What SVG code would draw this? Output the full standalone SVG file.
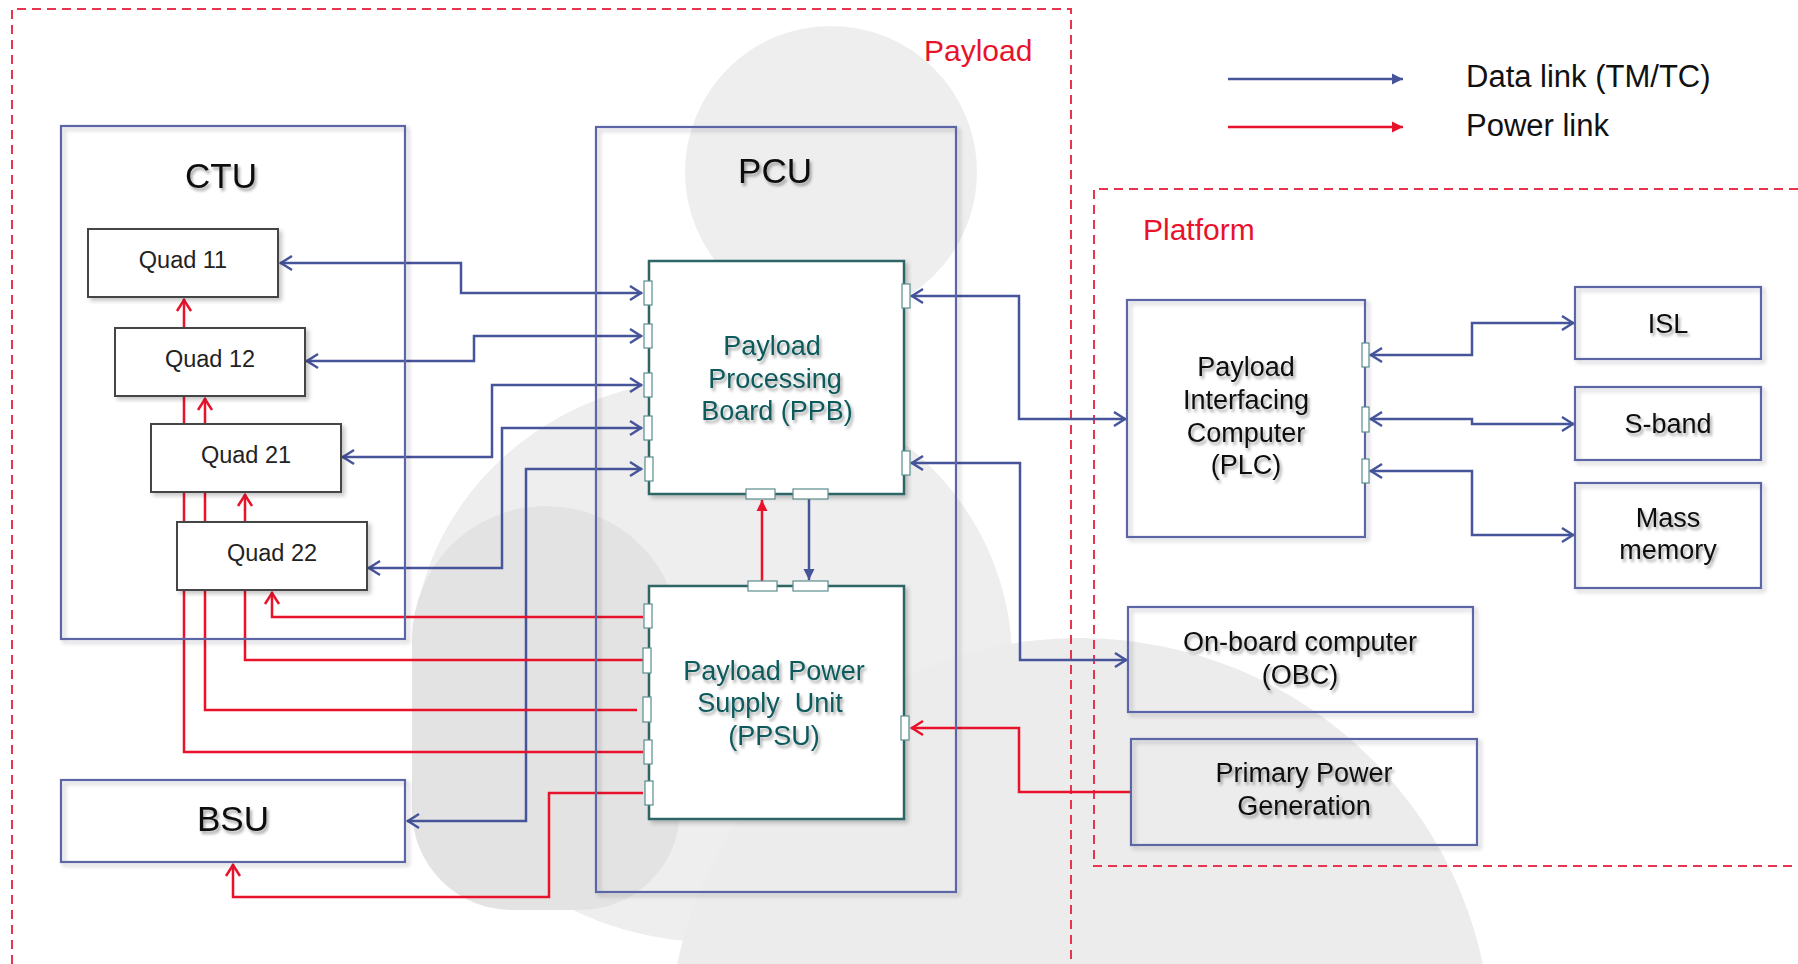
<svg xmlns="http://www.w3.org/2000/svg" width="1798" height="964" viewBox="0 0 1798 964">
  <style>
    text { font-family: "Liberation Sans", Arial, sans-serif; }
    .title { font-size: 35px; fill: #111; text-anchor: middle; }
    .lbl { font-size: 27px; fill: #111; text-anchor: middle; }
    .quad { font-size: 23.5px; fill: #222; text-anchor: middle; }
    .teal { font-size: 27px; fill: #0f5a5c; text-anchor: middle; white-space: pre; }
    .zone { font-size: 30px; fill: #e8132b; }
    .legend { font-size: 31px; fill: #111; }
    .frame { fill: none; stroke: #5b66a6; stroke-width: 2.2; }
    .qbox { fill: #fff; stroke: #444; stroke-width: 2; }
    .board { fill: #fff; stroke: #2f6666; stroke-width: 2.5; }
    .port { fill: #fff; stroke: #5a8c8c; stroke-width: 1.2; }
    .dash { fill: none; stroke: #e8344c; stroke-width: 2; stroke-dasharray: 9 6; }
    .data { fill: none; stroke: #46549a; stroke-width: 2.5; }
    .power { fill: none; stroke: #e8132b; stroke-width: 2.5; }
  </style>
  <defs>
    <filter id="tsh" x="-10%" y="-30%" width="130%" height="170%">
      <feDropShadow dx="2" dy="3" stdDeviation="1.6" flood-color="#000" flood-opacity="0.35"/>
    </filter>
    <filter id="bsh" x="-5%" y="-5%" width="115%" height="115%">
      <feDropShadow dx="3" dy="3" stdDeviation="2" flood-color="#000" flood-opacity="0.22"/>
    </filter>
    <marker id="chevB" viewBox="-14 -9 16 18" refX="0" refY="0" markerWidth="16" markerHeight="18" markerUnits="userSpaceOnUse" orient="auto-start-reverse">
      <path d="M-12,-7 L-1,0 L-12,7" fill="none" stroke="#46549a" stroke-width="2.5"/>
    </marker>
    <marker id="chevR" viewBox="-14 -9 16 18" refX="0" refY="0" markerWidth="16" markerHeight="18" markerUnits="userSpaceOnUse" orient="auto-start-reverse">
      <path d="M-12,-7 L-1,0 L-12,7" fill="none" stroke="#e8132b" stroke-width="2.5"/>
    </marker>
    <marker id="triB" viewBox="-12 -7 13 14" refX="0" refY="0" markerWidth="13" markerHeight="14" markerUnits="userSpaceOnUse" orient="auto">
      <path d="M-11,-5.5 L0,0 L-11,5.5 Z" fill="#46549a"/>
    </marker>
    <marker id="triR" viewBox="-12 -7 13 14" refX="0" refY="0" markerWidth="13" markerHeight="14" markerUnits="userSpaceOnUse" orient="auto">
      <path d="M-11,-5.5 L0,0 L-11,5.5 Z" fill="#e8132b"/>
    </marker>
  </defs>

  <rect width="1798" height="964" fill="#fff"/>

  <!-- faint two-person watermark behind the diagram -->
  <g id="watermark">
    <circle cx="831" cy="172" r="146" fill="#eeeeee"/>
    <ellipse cx="712" cy="660" rx="300" ry="282" fill="#eeeeee"/>
    <circle cx="1080" cy="1050" r="412" fill="#ececec"/>
    <path d="M412,640 A134,134 0 0 1 680,640 V810 A100,100 0 0 1 580,910 H512 A100,100 0 0 1 412,810 Z" fill="#e3e3e3"/>
  </g>

  <!-- zone outlines -->
  <g id="zones">
    <path class="dash" d="M12,964 V9 H1071 V964"/>
    <text class="zone" x="924" y="61">Payload</text>
    <path class="dash" d="M1798,189 H1094 V866 H1798"/>
    <text class="zone" x="1143" y="240">Platform</text>
  </g>

  <!-- legend -->
  <g id="legend">
    <line class="data" x1="1228" y1="79" x2="1403" y2="79" marker-end="url(#triB)"/>
    <line class="power" x1="1228" y1="127" x2="1403" y2="127" marker-end="url(#triR)"/>
    <text class="legend" x="1466" y="87">Data link (TM/TC)</text>
    <text class="legend" x="1466" y="136">Power link</text>
  </g>

  <!-- connectors -->
  <g id="connectors">
    <!-- data links -->
    <path class="data" d="M280,263 H461 V293 H642" marker-start="url(#chevB)" marker-end="url(#chevB)"/>
    <path class="data" d="M306,361 H474 V336 H642" marker-start="url(#chevB)" marker-end="url(#chevB)"/>
    <path class="data" d="M342,457 H492 V385 H642" marker-start="url(#chevB)" marker-end="url(#chevB)"/>
    <path class="data" d="M368,568 H502 V428 H642" marker-start="url(#chevB)" marker-end="url(#chevB)"/>
    <path class="data" d="M407,821 H526 V469 H642" marker-start="url(#chevB)" marker-end="url(#chevB)"/>
    <path class="data" d="M911,296 H1019 V419 H1126" marker-start="url(#chevB)" marker-end="url(#chevB)"/>
    <path class="data" d="M911,463 H1020 V660 H1127" marker-start="url(#chevB)" marker-end="url(#chevB)"/>
    <path class="data" d="M1370,355 H1472 V323 H1574" marker-start="url(#chevB)" marker-end="url(#chevB)"/>
    <path class="data" d="M1370,419 H1472 V424 H1574" marker-start="url(#chevB)" marker-end="url(#chevB)"/>
    <path class="data" d="M1370,471 H1472 V535 H1574" marker-start="url(#chevB)" marker-end="url(#chevB)"/>
    <path class="data" d="M809,499 V580" marker-end="url(#triB)"/>
    <!-- power links -->
    <path class="power" d="M643,617 H272 V592" marker-end="url(#chevR)"/>
    <path class="power" d="M643,660 H245 V494" marker-end="url(#chevR)"/>
    <path class="power" d="M637,710 H205 V398" marker-end="url(#chevR)"/>
    <path class="power" d="M643,752 H184 V299" marker-end="url(#chevR)"/>
    <path class="power" d="M643,793 H549 V897 H233 V864" marker-end="url(#chevR)"/>
    <path class="power" d="M1131,792 H1019 V728 H911" marker-end="url(#chevR)"/>
    <path class="power" d="M762,581 V500" marker-end="url(#triR)"/>
  </g>

  <!-- payload units -->
  <g id="ctu">
    <rect class="frame" x="61" y="126" width="344" height="513" filter="url(#bsh)"/>
    <text class="title" x="221" y="188" filter="url(#tsh)">CTU</text>
  </g>
  <g id="quad11">
    <rect class="qbox" x="88" y="229" width="190" height="68" filter="url(#bsh)"/>
    <text class="quad" x="183" y="268">Quad 11</text>
  </g>
  <g id="quad12">
    <rect class="qbox" x="115" y="328" width="190" height="68" filter="url(#bsh)"/>
    <text class="quad" x="210" y="367">Quad 12</text>
  </g>
  <g id="quad21">
    <rect class="qbox" x="151" y="424" width="190" height="68" filter="url(#bsh)"/>
    <text class="quad" x="246" y="463">Quad 21</text>
  </g>
  <g id="quad22">
    <rect class="qbox" x="177" y="522" width="190" height="68" filter="url(#bsh)"/>
    <text class="quad" x="272" y="561">Quad 22</text>
  </g>
  <g id="bsu">
    <rect class="frame" x="61" y="780" width="344" height="82" filter="url(#bsh)"/>
    <text class="title" x="233" y="831" filter="url(#tsh)">BSU</text>
  </g>
  <g id="pcu">
    <rect class="frame" x="596" y="127" width="360" height="765" filter="url(#bsh)"/>
    <text class="title" x="775" y="183" filter="url(#tsh)">PCU</text>
  </g>
  <g id="ppb">
    <rect class="board" x="649" y="261" width="255" height="233" filter="url(#bsh)"/>
    <rect class="port" x="644" y="281" width="8" height="24"/>
    <rect class="port" x="644" y="324" width="8" height="24"/>
    <rect class="port" x="644" y="373" width="8" height="24"/>
    <rect class="port" x="644" y="416" width="8" height="24"/>
    <rect class="port" x="645" y="457" width="8" height="24"/>
    <rect class="port" x="902" y="284" width="8" height="24"/>
    <rect class="port" x="902" y="451" width="8" height="24"/>
    <rect class="port" x="746" y="489" width="29" height="10"/>
    <rect class="port" x="793" y="489" width="35" height="10"/>
    <text class="teal" x="772" y="355" filter="url(#tsh)">Payload</text>
    <text class="teal" x="775" y="388" filter="url(#tsh)">Processing</text>
    <text class="teal" x="777" y="420" filter="url(#tsh)">Board (PPB)</text>
  </g>
  <g id="ppsu">
    <rect class="board" x="649" y="586" width="255" height="233" filter="url(#bsh)"/>
    <rect class="port" x="748" y="581" width="29" height="10"/>
    <rect class="port" x="793" y="581" width="35" height="10"/>
    <rect class="port" x="644" y="604" width="8" height="24"/>
    <rect class="port" x="643" y="648" width="8" height="25"/>
    <rect class="port" x="643" y="697" width="8" height="25"/>
    <rect class="port" x="644" y="740" width="8" height="24"/>
    <rect class="port" x="645" y="781" width="8" height="24"/>
    <rect class="port" x="901" y="716" width="8" height="24"/>
    <text class="teal" x="774" y="680" filter="url(#tsh)">Payload Power</text>
    <text class="teal" x="770" y="712" filter="url(#tsh)">Supply  Unit</text>
    <text class="teal" x="774" y="745" filter="url(#tsh)">(PPSU)</text>
  </g>

  <!-- platform units -->
  <g id="plc">
    <rect class="frame" x="1127" y="300" width="238" height="237" filter="url(#bsh)"/>
    <rect class="port" x="1362" y="343" width="7" height="24"/>
    <rect class="port" x="1362" y="407" width="7" height="25"/>
    <rect class="port" x="1362" y="459" width="7" height="24"/>
    <text class="lbl" x="1246" y="376" filter="url(#tsh)">Payload</text>
    <text class="lbl" x="1246" y="409" filter="url(#tsh)">Interfacing</text>
    <text class="lbl" x="1246" y="442" filter="url(#tsh)">Computer</text>
    <text class="lbl" x="1246" y="474" filter="url(#tsh)">(PLC)</text>
  </g>
  <g id="isl">
    <rect class="frame" x="1575" y="287" width="186" height="72" filter="url(#bsh)"/>
    <text class="lbl" x="1668" y="333" filter="url(#tsh)">ISL</text>
  </g>
  <g id="sband">
    <rect class="frame" x="1575" y="387" width="186" height="73" filter="url(#bsh)"/>
    <text class="lbl" x="1668" y="433" filter="url(#tsh)">S-band</text>
  </g>
  <g id="massmemory">
    <rect class="frame" x="1575" y="483" width="186" height="105" filter="url(#bsh)"/>
    <text class="lbl" x="1668" y="527" filter="url(#tsh)">Mass</text>
    <text class="lbl" x="1668" y="559" filter="url(#tsh)">memory</text>
  </g>
  <g id="obc">
    <rect class="frame" x="1128" y="607" width="345" height="105" filter="url(#bsh)"/>
    <text class="lbl" x="1300" y="651" filter="url(#tsh)">On-board computer</text>
    <text class="lbl" x="1300" y="684" filter="url(#tsh)">(OBC)</text>
  </g>
  <g id="ppg">
    <rect class="frame" x="1131" y="739" width="346" height="106" filter="url(#bsh)"/>
    <text class="lbl" x="1304" y="782" filter="url(#tsh)">Primary Power</text>
    <text class="lbl" x="1304" y="815" filter="url(#tsh)">Generation</text>
  </g>
</svg>
